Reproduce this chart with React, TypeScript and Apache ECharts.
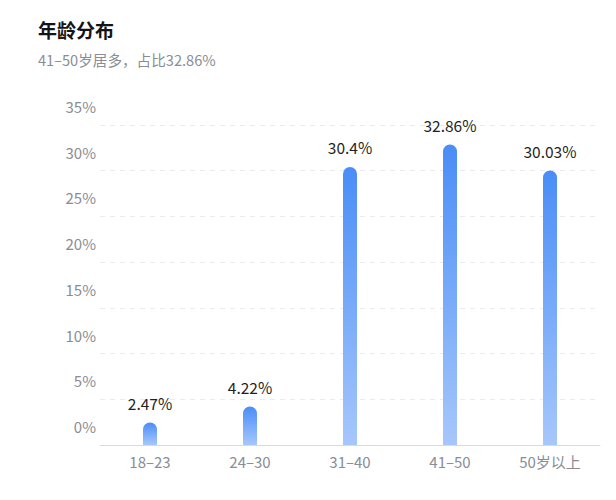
import React, { useEffect, useRef } from "react";
import * as echarts from "echarts";

const categories = ["18–23", "24–30", "31–40", "41–50", "50岁以上"];
const values = [2.47, 4.22, 30.4, 32.86, 30.03];
const valueLabels = ["2.47%", "4.22%", "30.4%", "32.86%", "30.03%"];
const titleText = "年龄分布";
const subtitleText = "41–50岁居多，占比32.86%";

const FONT = "'Noto Sans CJK SC', 'Noto Sans', sans-serif";

export default function App() {
  const ref = useRef<HTMLDivElement>(null);
  useEffect(() => {
    document.body.style.margin = "0";
    const chart = echarts.init(ref.current!, null, { renderer: "svg" });
    chart.setOption({
      animation: false,
      backgroundColor: "#ffffff",
      textStyle: { fontFamily: FONT },
      title: {
        text: titleText,
        subtext: subtitleText,
        left: 33,
        top: 15,
        itemGap: 13,
        textStyle: { fontSize: 19, fontWeight: "bold", color: "#141418", fontFamily: FONT },
        subtextStyle: { fontSize: 14.6, color: "#8a8d96", fontFamily: FONT },
      },
      grid: { left: 100, right: 16, top: 125, bottom: 55, containLabel: false },
      xAxis: {
        type: "category",
        data: categories,
        axisLine: { lineStyle: { color: "#d9d9de", width: 1 } },
        axisTick: { show: false },
        axisLabel: { color: "#8a8d96", fontSize: 15, margin: 9, fontFamily: FONT },
      },
      yAxis: {
        type: "value",
        min: 0,
        max: 35,
        interval: 5,
        axisLine: { show: false },
        axisTick: { show: false },
        axisLabel: {
          formatter: "{value}%",
          color: "#8a8d96",
          fontSize: 15,
          margin: 4,
          verticalAlign: "bottom",
          lineHeight: 37,
          fontFamily: FONT,
        },
        splitLine: { lineStyle: { color: "#ebebef", type: [5, 5], width: 1 } },
      },
      series: [
        {
          type: "bar",
          data: values,
          barWidth: 14,
          itemStyle: {
            borderRadius: [7, 7, 0, 0],
            color: new echarts.graphic.LinearGradient(0, 0, 0, 1, [
              { offset: 0, color: "#4a8df7" },
              { offset: 1, color: "#a6c7fb" },
            ]),
          },
          label: {
            show: true,
            position: "top",
            distance: 12,
            color: "#1f1f24",
            fontSize: 15.5,
            fontFamily: FONT,
            formatter: (p: any) => valueLabels[p.dataIndex],
          },
        },
      ],
    });
    return () => chart.dispose();
  }, []);
  return (
    <div
      ref={ref}
      style={{ position: "absolute", left: 0, top: 0, width: 616, height: 500 }}
    />
  );
}
